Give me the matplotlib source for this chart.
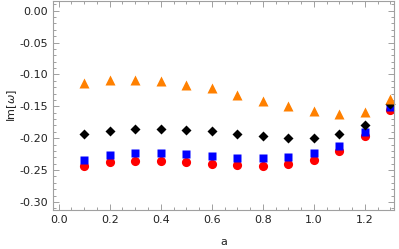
import matplotlib
matplotlib.use("Agg")
import matplotlib.pyplot as plt
from matplotlib.ticker import MultipleLocator, FormatStrFormatter

a = [0.1, 0.2, 0.3, 0.4, 0.5, 0.6, 0.7, 0.8, 0.9, 1.0, 1.1, 1.2, 1.3]
red = [-0.243, -0.238, -0.236, -0.236, -0.237, -0.240, -0.242, -0.243, -0.240, -0.234, -0.220, -0.197, -0.156]
blue = [-0.234, -0.227, -0.224, -0.224, -0.225, -0.228, -0.231, -0.231, -0.230, -0.224, -0.212, -0.190, -0.151]
black = [-0.194, -0.189, -0.185, -0.185, -0.187, -0.189, -0.194, -0.197, -0.200, -0.200, -0.194, -0.179, -0.147]
orange = [-0.113, -0.108, -0.108, -0.110, -0.116, -0.122, -0.132, -0.141, -0.150, -0.158, -0.162, -0.159, -0.138]

fig = plt.figure(figsize=(3.99, 2.49), dpi=100)
ax = fig.add_axes([0.133, 0.157, 0.855, 0.84])

ax.plot(a, red, 'o', color='#ff0000', ms=6.6, mec='none', clip_on=False)
ax.plot(a, blue, 's', color='#0000ff', ms=5.2, mec='none', clip_on=False)
ax.plot(a, black, 'D', color='black', ms=5.0, mec='none', clip_on=False)
ax.plot(a, orange, '^', color='#ff8000', ms=6.8, mec='none', clip_on=False)

ax.set_xlim(-0.022, 1.315)
ax.set_ylim(-0.3125, 0.0155)
ax.xaxis.set_major_locator(MultipleLocator(0.2))
ax.xaxis.set_minor_locator(MultipleLocator(0.05))
ax.yaxis.set_major_locator(MultipleLocator(0.05))
ax.yaxis.set_minor_locator(MultipleLocator(0.01))
ax.xaxis.set_major_formatter(FormatStrFormatter('%.1f'))
ax.yaxis.set_major_formatter(FormatStrFormatter('%.2f'))

fc = '#a0a0a0'
for s in ax.spines.values():
    s.set_color(fc)
    s.set_linewidth(0.8)
ax.tick_params(which='both', direction='in', top=True, right=True, color=fc,
               labelsize=8, labelcolor='#222222', width=0.7)
ax.tick_params(which='major', length=4)
ax.tick_params(which='minor', length=2)

ax.set_xlabel('a', fontsize=8, color='#222222', labelpad=9)
ax.set_ylabel('Im[$\\omega$]', fontsize=8, color='#222222', labelpad=0)

fig.savefig('out.png', dpi=100)
